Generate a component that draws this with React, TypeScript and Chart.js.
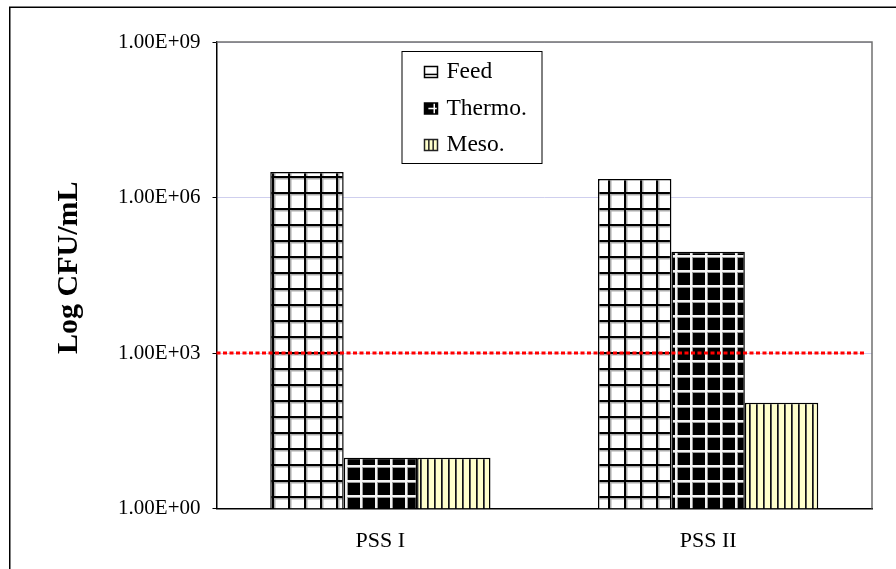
import React, { useEffect, useRef } from "react";
import { Chart, registerables } from "chart.js";

Chart.register(...registerables);

const categories = ["PSS I", "PSS II"];
const seriesNames = ["Feed", "Thermo.", "Meso."];
const feedValues = [3.1e6, 2.28e6];
const thermoValues = [9.5, 9.0e4];
const mesoValues = [9.5, 110];
const yTickValues = [1, 1e3, 1e6, 1e9];
const thresholdValue = 1e3;
const yAxisTitle = "Log CFU/mL";

const SERIF = '"Liberation Serif", "Times New Roman", serif';

function fmtTick(v: number): string {
  const e = Math.round(Math.log10(v));
  const m = v / Math.pow(10, e);
  return m.toFixed(2) + "E+" + String(e).padStart(2, "0");
}

function makeTile(w: number, h: number, draw: (c: CanvasRenderingContext2D) => void) {
  const cv = document.createElement("canvas");
  cv.width = w;
  cv.height = h;
  const c = cv.getContext("2d")!;
  draw(c);
  return cv;
}

function makePatterns(ctx: CanvasRenderingContext2D) {
  const feedTile = makeTile(16, 16, (c) => {
    c.fillStyle = "#fff";
    c.fillRect(0, 0, 16, 16);
    c.fillStyle = "#aaa";
    c.fillRect(2, 0, 1.5, 16);
    c.fillRect(0, 2, 16, 1.5);
    c.fillStyle = "#000";
    c.fillRect(0, 0, 2, 16);
    c.fillRect(0, 0, 16, 2);
  });
  const thermoTile = makeTile(15, 15, (c) => {
    c.fillStyle = "#000";
    c.fillRect(0, 0, 15, 15);
    c.fillStyle = "#999";
    c.fillRect(2, 0, 1, 15);
    c.fillRect(0, 2, 15, 1);
    c.fillStyle = "#f4f4f4";
    c.fillRect(0, 0, 2, 15);
    c.fillRect(0, 0, 15, 2);
  });
  const mesoTile = makeTile(7, 8, (c) => {
    c.fillStyle = "#ffffcc";
    c.fillRect(0, 0, 7, 8);
    c.fillStyle = "#555";
    c.fillRect(0, 0, 2, 8);
    c.fillStyle = "#111";
    c.fillRect(0, 0, 1, 8);
  });
  return [
    ctx.createPattern(feedTile, "repeat")!,
    ctx.createPattern(thermoTile, "repeat")!,
    ctx.createPattern(mesoTile, "repeat")!,
  ];
}

function drawIcon(ctx: CanvasRenderingContext2D, i: number, x: number, y: number, w: number, h: number) {
  ctx.save();
  if (i === 0) {
    ctx.fillStyle = "#fff";
    ctx.fillRect(x, y, w, h);
    ctx.strokeStyle = "#000";
    ctx.lineWidth = 1.5;
    ctx.strokeRect(x, y, w, h);
    ctx.beginPath();
    ctx.moveTo(x, y + h * 0.72);
    ctx.lineTo(x + w, y + h * 0.72);
    ctx.stroke();
  } else if (i === 1) {
    ctx.fillStyle = "#000";
    ctx.fillRect(x, y, w, h);
    ctx.strokeStyle = "#fff";
    ctx.lineWidth = 1.5;
    ctx.beginPath();
    ctx.moveTo(x + w * 0.3, y + h * 0.5);
    ctx.lineTo(x + w, y + h * 0.5);
    ctx.moveTo(x + w * 0.75, y);
    ctx.lineTo(x + w * 0.75, y + h);
    ctx.stroke();
    ctx.strokeStyle = "#000";
    ctx.strokeRect(x, y, w, h);
  } else {
    ctx.fillStyle = "#ffffcc";
    ctx.fillRect(x, y, w, h);
    ctx.strokeStyle = "#222";
    ctx.lineWidth = 1.5;
    ctx.beginPath();
    ctx.moveTo(x + w / 3, y);
    ctx.lineTo(x + w / 3, y + h);
    ctx.moveTo(x + (2 * w) / 3, y);
    ctx.lineTo(x + (2 * w) / 3, y + h);
    ctx.stroke();
    ctx.strokeRect(x, y, w, h);
  }
  ctx.restore();
}

const framePlugin = {
  id: "frame",
  beforeDraw(chart: any) {
    const ctx = chart.ctx;
    ctx.save();
    ctx.fillStyle = "#fff";
    ctx.fillRect(0, 0, chart.width, chart.height);
    ctx.strokeStyle = "#000";
    ctx.lineWidth = 1.5;
    ctx.strokeRect(9.75, 7.25, chart.width + 50, chart.height + 50);
    ctx.restore();
  },
};

const overlayPlugin = {
  id: "overlay",
  afterDatasetsDraw(chart: any) {
    const ctx = chart.ctx;
    const a = chart.chartArea;
    const y = chart.scales.y.getPixelForValue(thresholdValue);
    ctx.save();
    ctx.strokeStyle = "#ff0000";
    ctx.lineWidth = 3;
    ctx.setLineDash([4, 2.5]);
    ctx.beginPath();
    ctx.moveTo(a.left, y);
    ctx.lineTo(a.right - 6, y);
    ctx.stroke();
    ctx.setLineDash([]);
    // top & right plot border
    ctx.strokeStyle = "#707070";
    ctx.lineWidth = 1.5;
    ctx.beginPath();
    ctx.moveTo(a.left, a.top);
    ctx.lineTo(a.right, a.top);
    ctx.lineTo(a.right, a.bottom);
    ctx.stroke();
    ctx.restore();
  },
  afterDraw(chart: any) {
    const ctx = chart.ctx;
    const a = chart.chartArea;
    // y-axis title
    ctx.save();
    ctx.translate(77, (a.top + a.bottom) / 2 - 7.5);
    ctx.rotate(-Math.PI / 2);
    ctx.font = "bold 30px " + SERIF;
    ctx.fillStyle = "#000";
    ctx.textAlign = "center";
    ctx.textBaseline = "alphabetic";
    ctx.fillText(yAxisTitle, 0, 0);
    ctx.restore();
    // legend
    const bx = a.left + 185;
    const by = a.top + 9;
    const bw = 140;
    const bh = 112;
    ctx.save();
    ctx.fillStyle = "#fff";
    ctx.fillRect(bx, by, bw, bh);
    ctx.strokeStyle = "#000";
    ctx.lineWidth = 1;
    ctx.strokeRect(bx + 0.5, by + 0.5, bw, bh);
    ctx.font = "23.5px " + SERIF;
    ctx.fillStyle = "#000";
    ctx.textBaseline = "middle";
    chart.data.datasets.forEach((ds: any, i: number) => {
      const cy = by + 21 + i * 36.5;
      drawIcon(ctx, i, bx + 23, cy - 5.5, 13, 11);
      ctx.fillText(ds.label, bx + 45, cy);
    });
    ctx.restore();
  },
};

export default function App() {
  const ref = useRef<HTMLCanvasElement>(null);
  useEffect(() => {
    const canvas = ref.current!;
    const ctx = canvas.getContext("2d")!;
    const patterns = makePatterns(ctx);
    const valueLists = [feedValues, thermoValues, mesoValues];
    const chart = new Chart(canvas, {
      type: "bar",
      data: {
        labels: categories,
        datasets: seriesNames.map((name, i) => ({
          label: name,
          data: valueLists[i],
          backgroundColor: patterns[i],
          borderColor: "#000",
          borderWidth: 1.5,
          borderSkipped: "bottom",
          categoryPercentage: 0.672,
          barPercentage: 1,
        })),
      },
      options: {
        animation: false,
        responsive: false,
        devicePixelRatio: 1,
        layout: { padding: { left: 0, top: 42, right: 24, bottom: 0 } },
        plugins: {
          legend: { display: false },
          tooltip: { enabled: false },
        },
        scales: {
          x: {
            grid: { display: false, drawTicks: false },
            border: { display: true, color: "#000", width: 1.5 },
            ticks: {
              color: "#000",
              padding: 20,
              font: { family: SERIF, size: 22 },
            },
            afterFit: (s: any) => {
              s.height = 60.5;
            },
          },
          y: {
            type: "logarithmic",
            min: 1,
            max: 1e9,
            grid: {
              color: "#cfcfee",
              lineWidth: 1,
              tickColor: "#000",
              tickLength: 4,
            },
            border: { display: true, color: "#000", width: 1.5 },
            ticks: {
              color: "#000",
              padding: 12,
              font: { family: SERIF, size: 21 },
              callback: (v: any) => fmtTick(Number(v)),
            },
            afterBuildTicks: (s: any) => {
              s.ticks = yTickValues.map((v) => ({ value: v }));
            },
            afterFit: (s: any) => {
              s.width = 216.5;
            },
          },
        },
      },
      plugins: [framePlugin, overlayPlugin],
    });
    return () => chart.destroy();
  }, []);
  return (
    <div style={{ position: "absolute", left: 0, top: 0, width: 896, height: 569 }}>
      <canvas ref={ref} width={896} height={569} />
    </div>
  );
}
